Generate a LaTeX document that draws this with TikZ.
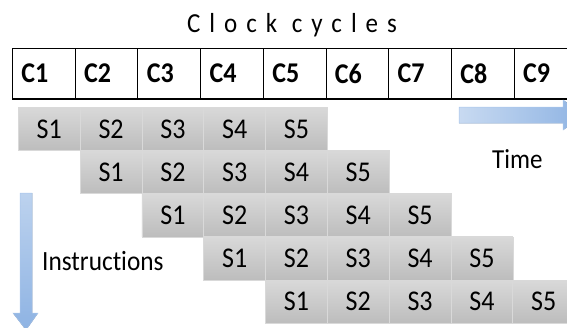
\documentclass[tikz,border=0pt]{standalone}
\usepackage{fontspec}
\usepackage{graphicx}
\setmainfont[Ligatures=NoCommon]{Carlito}
\definecolor{arrlight}{HTML}{C8DAF1}
\definecolor{arrdark}{HTML}{8EB3E3}
\definecolor{arredge}{HTML}{A9C6EC}
\newcommand{\tallt}[1]{\scalebox{1}[1.1]{#1}}
\begin{document}
\begin{tikzpicture}[x=1pt,y=-1pt,
  cell/.style={draw=black,line width=0.9pt,minimum width=62.7pt,minimum height=50pt,
    inner xsep=9pt,text width=44.7pt,align=left,font=\fontsize{26}{26}\selectfont\bfseries,anchor=north west},
  sbox/.style={draw=gray!30,line width=0.6pt,top color=black!15,bottom color=black!26,
    minimum width=62pt,minimum height=43.2pt,inner sep=0pt,anchor=north west,
    font=\fontsize{26}{26}\selectfont},
  lbl/.style={inner sep=0pt,anchor=base west}]
\useasboundingbox (0,0) rectangle (567,327);
\clip (0,0) rectangle (567,327);
% title
\node[inner sep=0pt,anchor=base] (title) at (292,32)
  {\tallt{\fontsize{25}{25}\selectfont\addfontfeature{LetterSpace=36}Clock cycles}};
% clock cells
\foreach \i in {1,...,9}{
  \node[cell] (c\i) at ({12+62.7*(\i-1)},48) {\tallt{C\i}};
}
\draw[line width=2pt] (c1.south west) -- (c9.south east);
% stage boxes
\foreach \r in {0,...,4}{
  \foreach \s in {1,...,5}{
    \node[sbox] (b\r\s) at ({18+61.8*(\r+\s-1)},{107+43.2*\r}) {\tallt{S\s}};
  }
}
% time arrow
\fill[left color=arrlight,right color=arrdark]
  (459,107) -- (563,107) -- (563,100) -- (585,115) -- (563,130) -- (563,123) -- (459,123) -- cycle;
\draw[arredge,line width=0.5pt]
  (459,107) -- (563,107) -- (563,100) -- (585,115) -- (563,130) -- (563,123) -- (459,123) -- cycle;
\node[lbl] (time) at (492,168) {\tallt{\fontsize{25}{25}\selectfont Time}};
% instructions arrow
\fill[top color=arrlight!80!arrdark,bottom color=arrdark]
  (20,193) -- (32,193) -- (32,313) -- (38,313) -- (26,330) -- (13,313) -- (20,313) -- cycle;
\draw[arredge,line width=0.5pt]
  (20,193) -- (32,193) -- (32,313) -- (38,313) -- (26,330) -- (13,313) -- (20,313) -- cycle;
\node[lbl] (instr) at (42,270) {\tallt{\fontsize{25.3}{25.3}\selectfont Instructions}};
\end{tikzpicture}
\end{document}
